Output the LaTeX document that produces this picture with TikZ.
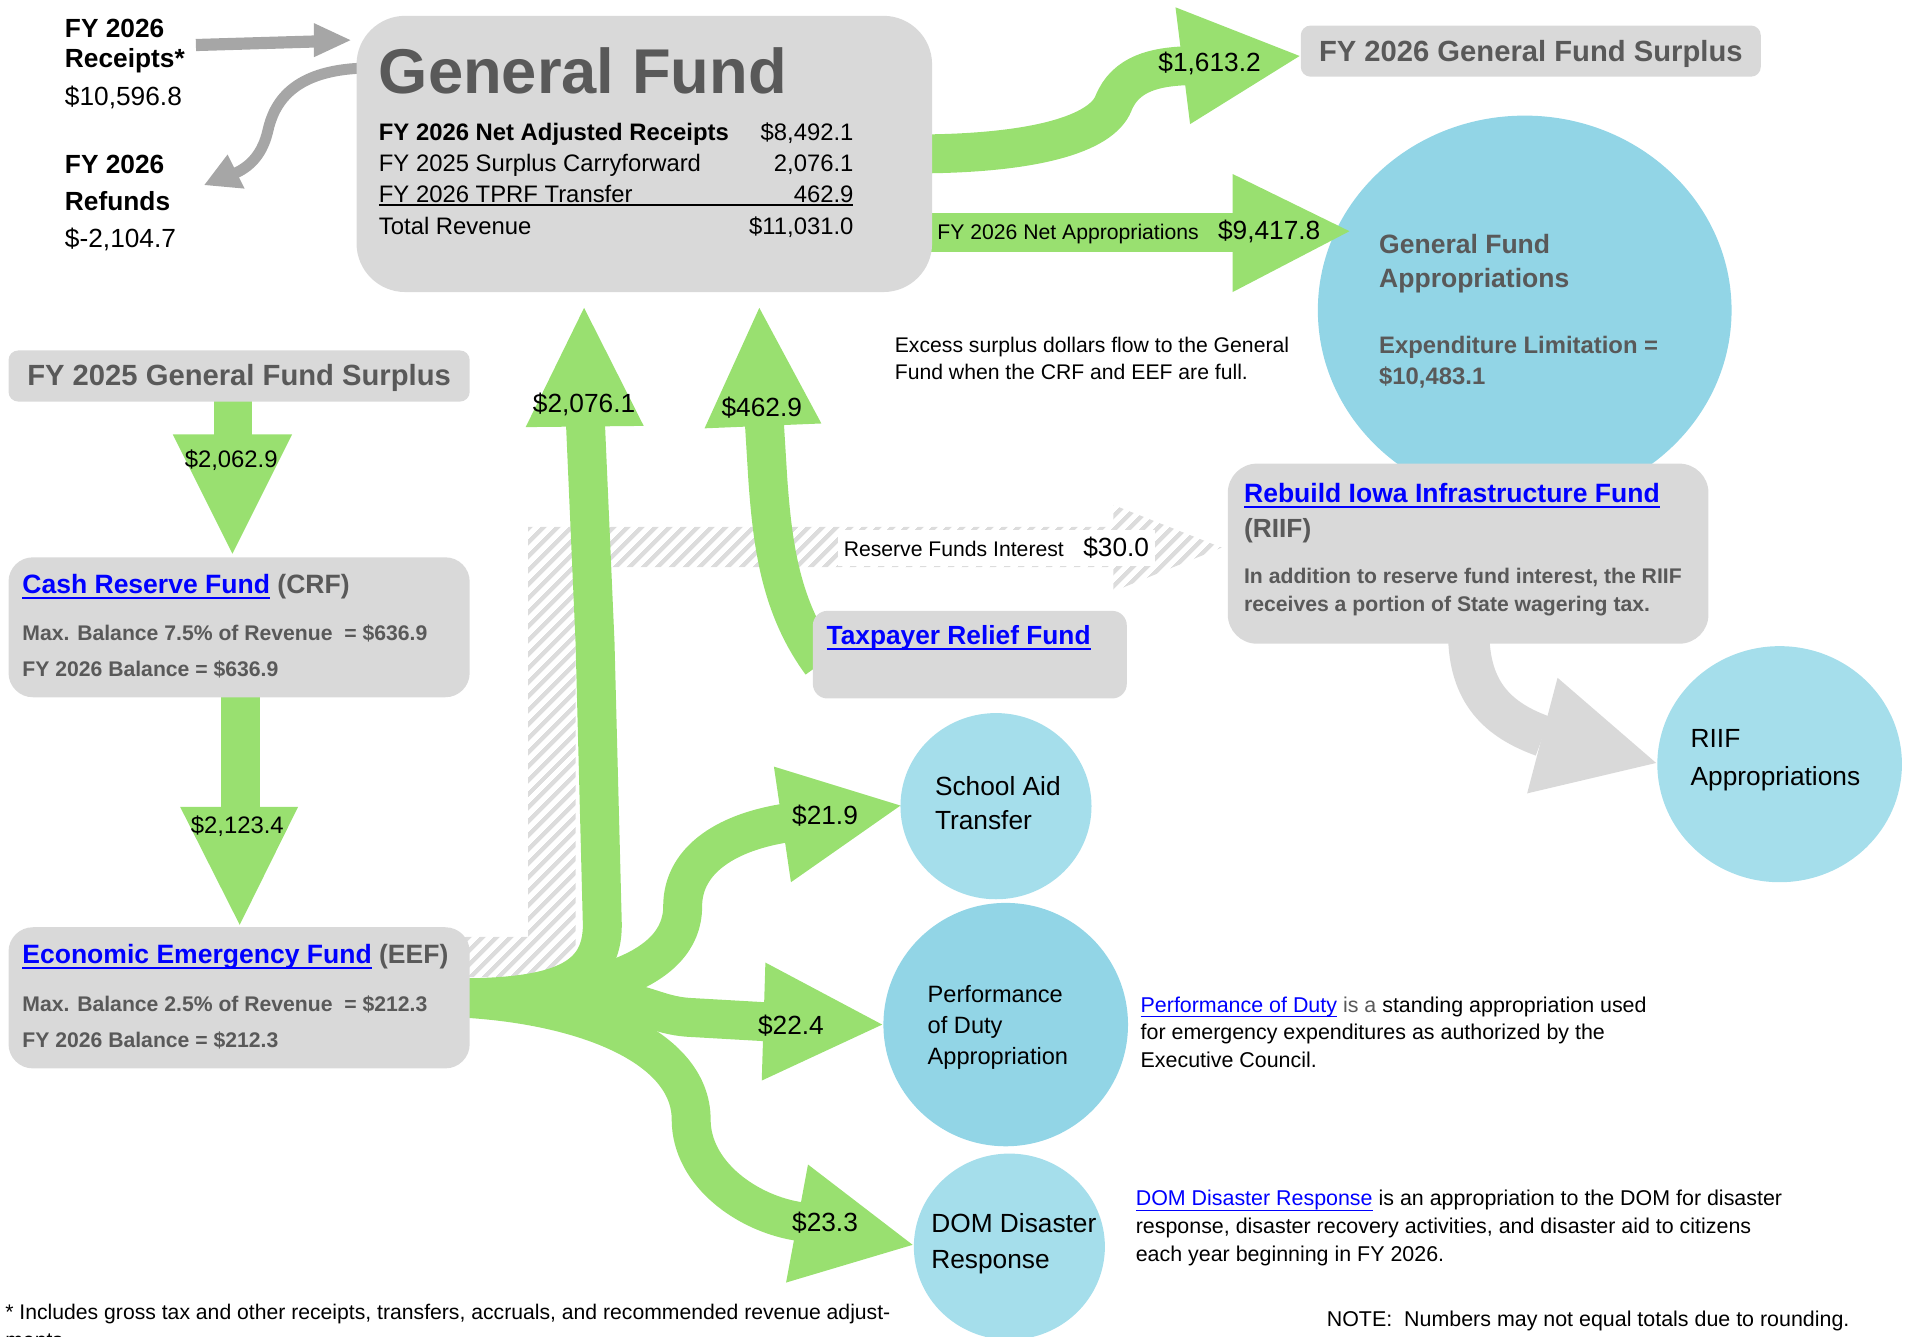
\documentclass[tikz,border=0pt]{standalone}
\usepackage{fontspec}
\setmainfont{Liberation Sans}
\usepackage{xcolor}
\usepackage{tikz}
\usetikzlibrary{shapes.geometric, positioning, fit, backgrounds, patterns.meta}

\definecolor{flowgreen}{HTML}{99E070}
\definecolor{boxgray}{HTML}{D9D9D9}
\definecolor{textgray}{HTML}{595959}
\definecolor{arrowgray}{HTML}{A6A6A6}
\definecolor{bubbledark}{HTML}{92D5E6}
\definecolor{bubblelight}{HTML}{A5DEEB}
\definecolor{linkblue}{HTML}{0000FF}
\definecolor{hatchgray}{HTML}{DCDCDC}

\setlength{\arrayrulewidth}{0.9pt}
\newcommand{\sz}[2]{\fontsize{#1}{#2}\selectfont}
\newcommand{\lnk}[2][0.9pt]{{\color{linkblue}\setbox0\hbox{#2}\rlap{\rule[-2.2pt]{\wd0}{#1}}\box0}}

\begin{document}
\begin{tikzpicture}[
    x=0.5pt, y=-0.5pt,
    fundbox/.style={fill=boxgray, rounded corners=10pt, inner sep=0pt},
    bubble/.style={ellipse, inner sep=0pt},
    flow/.style={draw=flowgreen, line width=16pt},
    headfill/.style={fill=flowgreen},
    grayflow/.style={draw=arrowgray, line width=5pt},
    txt/.style={inner sep=0pt, anchor=base west},
    blk/.style={inner sep=0pt, anchor=north west, align=left},
    val/.style={inner sep=0pt, font=\sz{10.8}{13}},
    hatch/.style={pattern={Lines[angle=45, distance=4pt, line width=1.9pt]}, pattern color=hatchgray},
]
    \useasboundingbox (0,0) rectangle (1568,1098);

    % Fund boxes
    \node[fundbox, rounded corners=20pt, fit={(293,13) (766,240)}] (gf) {};
    \node[fundbox, rounded corners=4pt, fit={(1069,21) (1447,63)}] (surp26) {};
    \node[fundbox, rounded corners=4pt, fit={(7,288) (386,330)}] (surp25) {};
    \node[fundbox, fit={(7,458) (386,573)}] (crf) {};
    \node[fundbox, fit={(7,762) (386,878)}] (eef) {};
    \node[fundbox, rounded corners=6pt, fit={(668,502) (926,574)}] (tprf) {};
    \node[fundbox, rounded corners=12pt, fit={(1009,381) (1404,529)}] (riif) {};

    \begin{scope}[on background layer]
    % Appropriation bubbles
    \node[bubble, fill=bubbledark, minimum width=170pt, minimum height=160pt] (gfapp) at (1253,255) {};
    \node[bubble, fill=bubblelight, minimum width=100.5pt, minimum height=97pt] (riifapp) at (1462.5,628) {};
    \node[bubble, fill=bubblelight, minimum width=78.5pt, minimum height=76.5pt] (school) at (818.5,662.5) {};
    \node[bubble, fill=bubbledark, minimum width=100.5pt, minimum height=100pt] (perf) at (826.5,842) {};
    \node[bubble, fill=bubblelight, minimum width=78.5pt, minimum height=76.5pt] (dom) at (829.5,1024.5) {};

    % Reserve fund interest to RIIF
    \fill[hatch] (380,770) -- (434,770) -- (434,433) -- (915,433) -- (915,415) -- (1004,450)
        -- (915,486) -- (915,466) -- (473,466) -- (473,803) -- (380,803) -- cycle;

    % General Fund outflows
    \draw[flow] ([xshift=-10pt]gf.east) .. controls (850,127) and (905,110) .. (915,85)
        .. controls (925,60) and (950,55) .. (975,54);
    \fill[headfill] (966,6) -- (978,102) -- (1068,46) -- cycle;
    \draw[flow] (756,191) -- (1020,191);
    \fill[headfill] (1013,143) -- (1013,240) -- (1109,190) -- cycle;

    % Surplus into the reserve funds
    \draw[flow] (191.5,325) -- (191.5,360);
    \fill[headfill] (142,357) -- (240,357) -- (191,455) -- cycle;
    \draw[flow] (197.5,565) -- (197.5,666);
    \fill[headfill] (148,663) -- (245,663) -- (197,760) -- cycle;

    % EEF outflows
    \draw[flow] (376,820) .. controls (460,820) and (495,805) .. (495,760) -- (489,528) -- (481,345);
    \fill[headfill] (432,351) -- (529,350) -- (480,253) -- cycle;
    \draw[flow] (376,820) .. controls (480,822) and (561,800) .. (561,745)
        .. controls (561,705) and (600,683) .. (648,676);
    \fill[headfill] (636,630) -- (650,725) -- (740,662) -- cycle;
    \draw[flow] (376,820) -- (500,822) .. controls (530,824) and (540,834) .. (565,836) -- (635,840);
    \fill[headfill] (629,791) -- (626,888) -- (725,842) -- cycle;
    \draw[flow] (376,820) .. controls (480,825) and (568,860) .. (568,920)
        .. controls (568,965) and (615,998) .. (658,1004);
    \fill[headfill] (664,957) -- (646,1054) -- (750,1023) -- cycle;

    % TPRF transfer back to the General Fund
    \draw[flow] (675,545) .. controls (642,500) and (635,450) .. (631,394) -- (628,345);
    \fill[headfill] (579,352) -- (675,348) -- (624,253) -- cycle;

    % Receipts and refunds
    \draw[grayflow] (161,37) -- (262,34);
    \fill[arrowgray] (258,19) -- (258,47) -- (288,33) -- cycle;
    \draw[grayflow, line width=4.5pt] (298,56) .. controls (240,58) and (225,85) .. (220,108)
        .. controls (216,125) and (207,136) .. (194,142);
    \fill[arrowgray] (187,127) -- (201,155) -- (168,152) -- cycle;

    % RIIF to appropriations
    \draw[draw=boxgray, line width=17pt] (1207,520) .. controls (1207,570) and (1232,592) .. (1268,605);
    \fill[boxgray] (1280,557) -- (1255,652) -- (1361,627) -- cycle;
    \end{scope}

    % Receipts and refunds text
    \node[blk, font=\sz{10.8}{12.5}\bfseries] (rcpt) at (53,15) {FY 2026\\Receipts*};
    \node[txt, font=\sz{10.8}{13}] (rcptval) at (53,87) {\$10,596.8};
    \node[blk, font=\sz{10.8}{15.25}] (rfnd) at (53,127) {\textbf{FY 2026}\\\textbf{Refunds}\\\$-2,104.7};

    % General Fund
    \node[txt, font=\sz{26}{30}\bfseries, text=textgray] (gftitle) at (311,77) {General Fund};
    \node[inner sep=0pt, anchor=north west, font=\sz{9.8}{12.65}] (gftab) at (311,97.3) {%
      \begin{tabular*}{195pt}{@{}l@{\extracolsep{\fill}}r@{}}
      \textbf{FY 2026 Net Adjusted Receipts} & \$8,492.1\\
      FY 2025 Surplus Carryforward & 2,076.1\\
      FY 2026 TPRF Transfer & 462.9\\
      \noalign{\vskip-3pt}\hline\noalign{\vskip3pt}
      Total Revenue & \$11,031.0
      \end{tabular*}};

    % Surplus boxes
    \node[font=\sz{12}{14}\bfseries, text=textgray, yshift=-1pt] (surp26txt) at (surp26.center) {FY 2026 General Fund Surplus};
    \node[font=\sz{12}{14}\bfseries, text=textgray, yshift=-1pt] (surp25txt) at (surp25.center) {FY 2025 General Fund Surplus};

    % Flow amounts
    \node[val] (v1613) at (994,52) {\$1,613.2};
    \node[txt, font=\sz{8.7}{10}] (netapp) at (770,197) {FY 2026 Net Appropriations};
    \node[val] (v9417) at (1043,190) {\$9,417.8};
    \node[val, font=\sz{9.8}{12}] (v2062) at (190,378) {\$2,062.9};
    \node[val, font=\sz{9.8}{12}] (v2123) at (195,679) {\$2,123.4};
    \node[val] (v2076) at (480,332) {\$2,076.1};
    \node[val] (v462) at (626,335) {\$462.9};
    \node[val] (v219) at (678,670) {\$21.9};
    \node[val] (v224) at (650,843) {\$22.4};
    \node[val] (v233) at (678,1005) {\$23.3};
    \node[fill=white, inner xsep=2.5pt, inner ysep=3pt, anchor=west] (rfi) at (688,450)
        {\sz{8.7}{10}Reserve Funds Interest\hspace{8pt}\sz{10.8}{12}\$30.0};

    % General Fund appropriations
    \node[blk, font=\sz{10.9}{14}\bfseries, text=textgray] (gfapptxt) at (1133,192) {General Fund\\Appropriations};
    \node[blk, font=\sz{9.8}{12.5}\bfseries, text=textgray] (gflimit) at (1133,276) {Expenditure Limitation =\\\$10,483.1};
    \node[blk, font=\sz{8.7}{11}] (excess) at (735,276.7) {Excess surplus dollars flow to the General\\Fund when the CRF and EEF are full.};

    % Reserve funds
    \node[txt, font=\sz{10.9}{12}\bfseries, text=textgray] (crftitle) at (18,488) {\lnk{Cash Reserve Fund} (CRF)};
    \node[blk, font=\sz{8.7}{15}\bfseries, text=textgray] (crftxt) at (18,512.7) {Max. Balance 7.5\% of Revenue\ \ = \$636.9\\FY 2026 Balance = \$636.9};
    \node[txt, font=\sz{10.9}{12}\bfseries, text=textgray] (eeftitle) at (18,792) {\lnk{Economic Emergency Fund} (EEF)};
    \node[blk, font=\sz{8.7}{15}\bfseries, text=textgray] (eeftxt) at (18,817.7) {Max. Balance 2.5\% of Revenue\ \ = \$212.3\\FY 2026 Balance = \$212.3};
    \node[txt, font=\sz{10.8}{12}\bfseries] (tprftitle) at (679,530) {\lnk{Taxpayer Relief Fund}};

    % RIIF
    \node[txt, font=\sz{10.9}{12}\bfseries] (riiftitle) at (1022,413) {\lnk{Rebuild Iowa Infrastructure Fund}};
    \node[txt, font=\sz{10.8}{12}\bfseries, text=textgray] (riifabbr) at (1022,442) {(RIIF)};
    \node[blk, font=\sz{8.7}{11.5}\bfseries, text=textgray] (riiftxt) at (1022,466.7) {In addition to reserve fund interest, the RIIF\\receives a portion of State wagering tax.};
    \node[blk, font=\sz{10.8}{15.5}] (riifapptxt) at (1389,599) {RIIF\\Appropriations};

    % Bubble labels
    \node[blk, font=\sz{10.8}{14}] (schooltxt) at (768,638) {School Aid\\Transfer};
    \node[blk, font=\sz{9.7}{12.75}] (perftxt) at (762,809) {Performance\\of Duty\\Appropriation};
    \node[blk, font=\sz{10.8}{14.5}] (domtxt) at (765,997) {DOM Disaster\\Response};

    % Notes
    \node[blk, font=\sz{8.8}{11.5}] (perfnote) at (937,818.5) {\lnk[0.5pt]{Performance of Duty} {\color{textgray}is a} standing appropriation used\\for emergency expenditures as authorized by the\\Executive Council.};
    \node[blk, font=\sz{8.8}{11.5}] (domnote) at (933,977.5) {\lnk[0.5pt]{DOM Disaster Response} is an appropriation to the DOM for disaster\\response, disaster recovery activities, and disaster aid to citizens\\each year beginning in FY 2026.};
    \node[blk, font=\sz{8.7}{11.5}] (foot) at (4,1071.7) {* Includes gross tax and other receipts, transfers, accruals, and recommended revenue adjust-\\ments.};
    \node[txt, font=\sz{8.8}{11}] (note) at (1090,1090) {NOTE:\ \ Numbers may not equal totals due to rounding.};

\end{tikzpicture}
\end{document}
